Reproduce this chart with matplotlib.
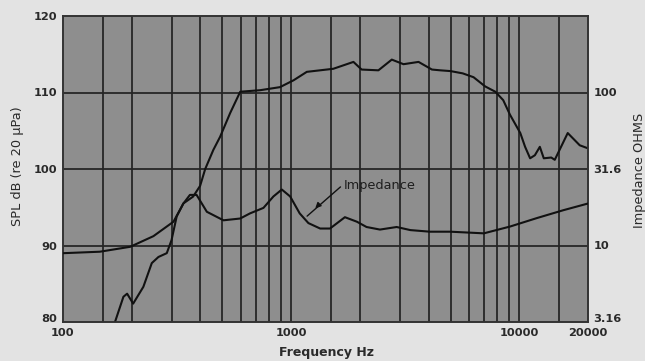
import matplotlib
matplotlib.use("Agg")
import matplotlib.pyplot as plt
from matplotlib.ticker import FixedLocator, NullLocator

plt.rcParams['font.family'] = ['DejaVu Sans']

# SPL response (dB re 20 uPa)
spl_freq = [169, 184, 191, 203, 225, 245, 262, 285, 299, 315, 337, 372, 399, 420, 456,
            488, 540, 598, 731, 893, 1025, 1171, 1530, 1875, 2036, 2412, 2761, 3107,
            3617, 4140, 4500, 4990, 5650, 6300, 7080, 7850, 8500, 9100, 10100, 10600,
            11150, 11700, 12300, 12800, 13800, 14300, 16300, 18400, 20000]
spl_db = [80.0, 83.3, 83.7, 82.4, 84.6, 87.7, 88.5, 89.0, 90.7, 93.8, 95.5, 96.4, 97.8, 100.0, 102.5,
          104.2, 107.3, 110.1, 110.3, 110.7, 111.6, 112.7, 113.1, 114.0, 113.0, 112.9, 114.3, 113.7,
          114.0, 113.0, 112.9, 112.8, 112.5, 112.0, 110.8, 110.1, 109.0, 107.1, 104.7, 102.9,
          101.4, 101.8, 102.9, 101.4, 101.5, 101.2, 104.7, 103.1, 102.7]

# Impedance (ohms)
imp_freq = [100, 145, 197, 249, 305, 337, 360, 385, 427, 505, 598, 660, 756, 836, 910,
            990, 1090, 1190, 1340, 1480, 1720, 1940, 2140, 2450, 2900, 3330, 4060, 4990,
            6990, 9120, 11940, 15600, 20000]
imp_ohm = [8.9, 9.1, 9.8, 11.5, 14.3, 18.8, 21.4, 21.4, 16.6, 14.6, 15.0, 16.2, 17.6, 20.9, 23.2,
           20.9, 16.2, 14.0, 12.9, 12.9, 15.3, 14.3, 13.2, 12.7, 13.2, 12.6, 12.3, 12.3,
           12.0, 13.3, 15.1, 17.0, 18.8]

x_ticks = [100, 1000, 10000, 20000]
x_grid = [150, 200, 300, 400, 500, 600, 700, 800, 900, 1000, 1500, 2000, 3000, 4000,
          5000, 6000, 7000, 8000, 9000, 10000, 15000]
spl_ticks = [80, 90, 100, 110, 120]
imp_ticks = [3.16, 10, 31.6, 100]
imp_labels = ["3.16", "10", "31.6", "100"]

fig = plt.figure(figsize=(6.45, 3.61), dpi=100)
fig.patch.set_facecolor('#e3e3e3')
ax = fig.add_axes([63/645, 1 - 322/361, 525/645, 306/361])
ax.set_facecolor('#8e8e8e')

ax.set_xscale('log')
ax.set_xlim(100, 20000)
ax.set_ylim(80, 120)

gridc = '#262626'
for f in x_grid:
    ax.axvline(f, color=gridc, lw=1.3, zorder=1)
for v in [90, 100, 110]:
    ax.axhline(v, color=gridc, lw=1.3, zorder=1)

ax.plot(spl_freq, spl_db, color='#111111', lw=1.5, zorder=3,
        solid_joinstyle='round', solid_capstyle='round')

ax2 = ax.twinx()
ax2.set_yscale('log')
ax2.set_ylim(3.16, 316.0)
ax2.plot(imp_freq, imp_ohm, color='#111111', lw=1.5, zorder=3,
         solid_joinstyle='round', solid_capstyle='round')

ax.xaxis.set_major_locator(FixedLocator(x_ticks))
ax.xaxis.set_minor_locator(NullLocator())
ax.set_xticklabels([str(t) for t in x_ticks])
ax.set_yticks(spl_ticks)
ax.set_yticklabels([str(t) for t in spl_ticks])
ax2.yaxis.set_major_locator(FixedLocator(imp_ticks))
ax2.yaxis.set_minor_locator(NullLocator())
ax2.set_yticklabels(imp_labels)

tc = '#2a2a2a'
for a in (ax, ax2):
    a.tick_params(length=0, labelsize=8.2, colors=tc, pad=4)
    for lab in a.get_xticklabels() + a.get_yticklabels():
        lab.set_fontweight('bold')
    for s in a.spines.values():
        s.set_color('#333333')
        s.set_linewidth(1.2)
ax.tick_params(axis='x', pad=4)
# bottom labels on both y axes sit slightly above the baseline
ax.get_yticklabels()[0].set_va('baseline')
ax2.get_yticklabels()[0].set_va('baseline')

ax.set_xlabel('Frequency Hz', fontsize=9, fontweight='bold', color=tc)
ax.xaxis.set_label_coords(0.502, -0.080)
ax.set_ylabel('SPL dB (re 20 \u00b5Pa)', fontsize=9.3, color=tc)
ax.yaxis.set_label_coords(-0.0745, 0.51)
ax2.set_ylabel('Impedance OHMS', fontsize=9.3, color=tc)
ax2.yaxis.set_label_coords(1.085, 0.497)

# annotation
ax.annotate('', xy=(1150, 93.6), xytext=(1680, 97.9),
            arrowprops=dict(arrowstyle='-', color='#111111', lw=1.0), zorder=4)
ax.annotate('', xy=(1250, 94.6), xytext=(1330, 95.4),
            arrowprops=dict(arrowstyle='-|>', color='#111111', lw=1.0, mutation_scale=8), zorder=4)
ax.text(1700, 97.9, 'Impedance', fontsize=9.3, color='#1e1e1e', va='center', ha='left', zorder=4)

fig.savefig('out.png', dpi=100, facecolor=fig.get_facecolor())
